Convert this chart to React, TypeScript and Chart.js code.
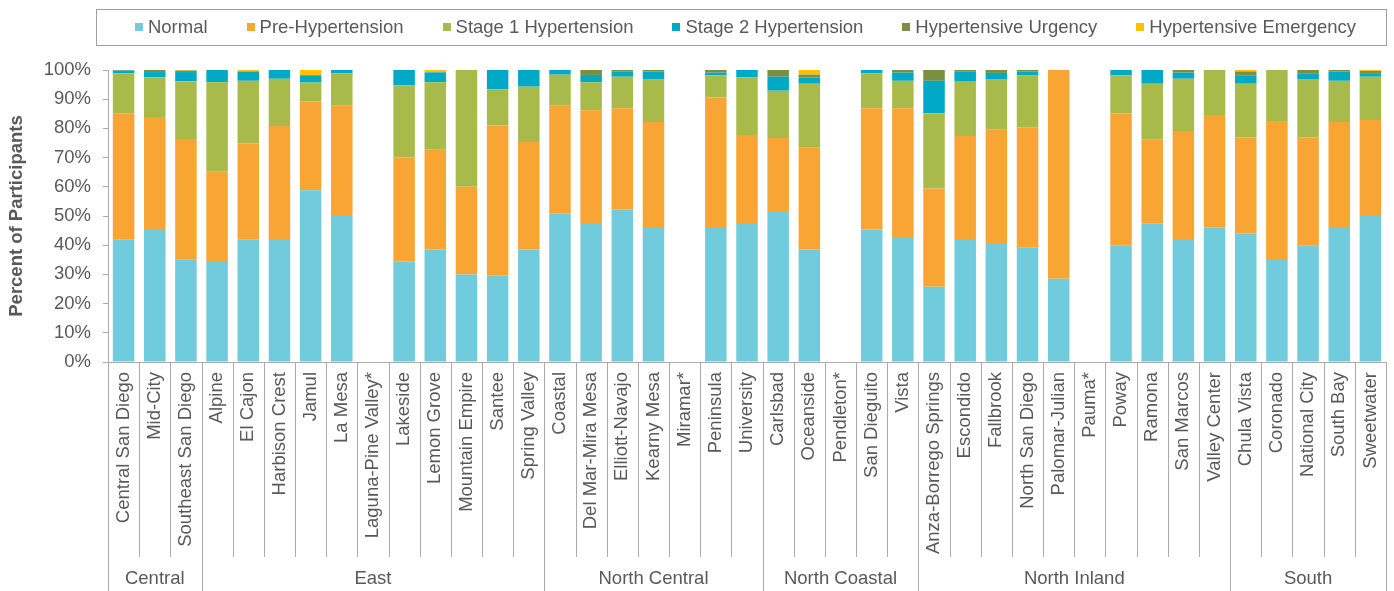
import React, { useEffect, useRef } from "react";
import { Chart, registerables } from "chart.js";

Chart.register(...registerables);

const categories = [
  "Central San Diego", "Mid-City", "Southeast San Diego",
  "Alpine", "El Cajon", "Harbison Crest", "Jamul", "La Mesa", "Laguna-Pine Valley*", "Lakeside", "Lemon Grove", "Mountain Empire", "Santee", "Spring Valley",
  "Coastal", "Del Mar-Mira Mesa", "Elliott-Navajo", "Kearny Mesa", "Miramar*", "Peninsula", "University",
  "Carlsbad", "Oceanside", "Pendleton*", "San Dieguito", "Vista",
  "Anza-Borrego Springs", "Escondido", "Fallbrook", "North San Diego", "Palomar-Julian", "Pauma*", "Poway", "Ramona", "San Marcos", "Valley Center",
  "Chula Vista", "Coronado", "National City", "South Bay", "Sweetwater",
];

const groupNames = ["Central", "East", "North Central", "North Coastal", "North Inland", "South"];
const groupSizes = [3, 11, 7, 5, 10, 5];

const normal = [
  42.0, 45.2, 35.0,
  34.6, 42.0, 41.8, 58.8, 50.0, null, 34.4, 38.5, 30.0, 29.6, 38.5,
  50.9, 47.3, 52.3, 45.9, null, 45.9, 47.3,
  51.4, 38.5, null, 45.4, 42.8,
  25.8, 41.8, 40.4, 39.3, 28.5, null, 40.0, 47.5, 41.8, 46.1,
  44.1, 35.3, 39.8, 45.9, 50.0,
];
const preHypertension = [
  43.2, 38.7, 41.4,
  30.7, 32.8, 39.0, 30.5, 37.9, null, 35.6, 34.2, 30.0, 51.5, 36.8,
  37.0, 38.9, 34.6, 36.3, null, 44.7, 30.4,
  25.3, 34.9, null, 41.5, 44.1,
  33.6, 35.6, 39.1, 41.1, 71.5, null, 45.2, 28.8, 37.3, 38.5,
  32.8, 47.2, 37.1, 36.3, 32.9,
];
const stage1 = [
  13.7, 13.6, 19.7,
  30.5, 21.5, 16.2, 6.4, 11.0, null, 24.7, 23.1, 40.0, 12.3, 19.0,
  10.5, 9.6, 10.8, 14.5, null, 7.6, 19.8,
  16.2, 21.9, null, 12.0, 9.4,
  25.8, 18.6, 17.2, 17.7, 0, null, 13.0, 19.0, 17.9, 15.4,
  18.4, 17.5, 19.8, 14.1, 14.8,
];
const stage2 = [
  0.9, 1.8, 3.2,
  4.2, 3.2, 3.0, 2.5, 1.1, null, 5.3, 3.4, 0, 6.6, 5.7,
  1.6, 2.5, 1.7, 2.8, null, 0.9, 2.5,
  4.8, 2.1, null, 1.1, 2.8,
  11.1, 3.4, 2.3, 1.4, 0, null, 1.8, 4.7, 2.1, 0,
  2.9, 0, 2.0, 3.2, 1.2,
];
const urgency = [
  0.2, 0.7, 0.5,
  0, 0, 0, 0, 0, null, 0, 0, 0, 0, 0,
  0, 1.7, 0.6, 0.5, null, 0.9, 0,
  2.3, 1.0, null, 0, 0.9,
  3.7, 0.6, 1.0, 0.5, 0, null, 0, 0, 0.9, 0,
  1.3, 0, 1.3, 0.5, 0.8,
];
const emergency = [
  0, 0, 0.2,
  0, 0.5, 0, 1.8, 0, null, 0, 0.8, 0, 0, 0,
  0, 0, 0, 0, null, 0, 0,
  0, 1.6, null, 0, 0,
  0, 0, 0, 0, 0, null, 0, 0, 0, 0,
  0.5, 0, 0, 0, 0.3,
];

const seriesNames = [
  "Normal", "Pre-Hypertension", "Stage 1 Hypertension",
  "Stage 2 Hypertension", "Hypertensive Urgency", "Hypertensive Emergency",
];
const seriesValues = [normal, preHypertension, stage1, stage2, urgency, emergency];
const seriesColors = ["#70CBDD", "#F9A533", "#A8BB4A", "#00A9C6", "#7A8F40", "#FFC000"];

const yTickValues = [0, 10, 20, 30, 40, 50, 60, 70, 80, 90, 100];

const FONT = "'Liberation Sans', Arial, sans-serif";
const FS = 18.5;
const TEXT = "#595959";
const LINE = "#ABABAB";

const decorPlugin = {
  id: "decor",
  afterDraw(chart: any) {
    const { ctx, chartArea } = chart;
    const xs = chart.scales.x;
    const n = categories.length;
    const w = (chartArea.right - chartArea.left) / n;
    ctx.save();
    ctx.strokeStyle = LINE;
    ctx.lineWidth = 1;
    const ends = new Set<number>([0]);
    let acc = 0;
    groupSizes.forEach((s) => {
      acc += s;
      ends.add(acc);
    });
    for (let i = 0; i <= n; i++) {
      const px = Math.round(xs.getPixelForValue(Math.min(i, n - 1)) + (i === n ? w / 2 : -w / 2)) + 0.5;
      const bottom = ends.has(i) ? chart.height : xs.bottom;
      ctx.beginPath();
      ctx.moveTo(px, chartArea.bottom);
      ctx.lineTo(px, bottom);
      ctx.stroke();
    }
    ctx.fillStyle = TEXT;
    ctx.font = `${FS}px ${FONT}`;
    ctx.textAlign = "center";
    ctx.textBaseline = "middle";
    let start = 0;
    groupSizes.forEach((s, gi) => {
      const cx = chartArea.left + (start + s / 2) * w;
      ctx.fillText(groupNames[gi], cx, xs.bottom + 22);
      start += s;
    });

    // legend box
    const boxL = chartArea.left - 12;
    const boxR = chartArea.right;
    const boxT = 9;
    const boxB = 45;
    ctx.strokeStyle = "#A0A0A0";
    ctx.strokeRect(Math.round(boxL) + 0.5, boxT + 0.5, Math.round(boxR - boxL), boxB - boxT);
    const marker = 8;
    const mgap = 5;
    const igap = 39;
    ctx.font = `${FS}px ${FONT}`;
    const widths = seriesNames.map((t) => ctx.measureText(t).width);
    const total = widths.reduce((a, b) => a + b + marker + mgap, 0) + igap * (seriesNames.length - 1);
    let x = (chartArea.left + chartArea.right) / 2 - 1.5 - total / 2;
    const cy = 27;
    ctx.textAlign = "left";
    seriesNames.forEach((t, i) => {
      ctx.fillStyle = seriesColors[i];
      ctx.fillRect(Math.round(x), cy - 4, marker, marker);
      ctx.fillStyle = TEXT;
      ctx.fillText(t, x + marker + mgap, cy + 1);
      x += marker + mgap + widths[i] + igap;
    });
    ctx.restore();
  },
};

export default function App() {
  const ref = useRef<HTMLCanvasElement | null>(null);
  useEffect(() => {
    document.body.style.margin = "0";
    document.body.style.overflow = "hidden";
    document.documentElement.style.overflow = "hidden";
    if (!ref.current) return;
    const chart = new Chart(ref.current, {
      type: "bar",
      data: {
        labels: categories,
        datasets: seriesNames.map((name, i) => ({
          label: name,
          data: seriesValues[i],
          backgroundColor: seriesColors[i],
          borderWidth: 0,
          barPercentage: 0.69,
          categoryPercentage: 1.0,
        })),
      },
      options: {
        animation: false,
        responsive: false,
        layout: { padding: { top: 70, right: 0, bottom: 34, left: 0 } },
        plugins: {
          legend: { display: false },
          tooltip: { enabled: false },
        },
        scales: {
          x: {
            stacked: true,
            grid: { display: false, drawTicks: false },
            border: { display: true, color: LINE },
            ticks: {
              autoSkip: false,
              minRotation: 90,
              maxRotation: 90,
              padding: 10,
              color: TEXT,
              font: { size: FS, family: FONT },
            },
            afterFit: (s: any) => {
              s.height = 195;
              s.paddingRight = 8;
            },
          },
          y: {
            stacked: true,
            min: 0,
            max: 100,
            afterBuildTicks: (s: any) => {
              s.ticks = yTickValues.map((v) => ({ value: v }));
            },
            ticks: {
              callback: (v: any) => `${v}%`,
              color: TEXT,
              padding: 12,
              font: { size: FS, family: FONT },
            },
            grid: { drawOnChartArea: false, drawTicks: true, tickLength: 5, color: LINE },
            border: { display: true, color: LINE },
            title: {
              display: true,
              text: "Percent of Participants",
              color: TEXT,
              font: { size: FS, weight: "bold", family: FONT },
              padding: { top: 6, bottom: 0 },
            },
            afterFit: (s: any) => {
              s.width = 108;
            },
          },
        },
      },
      plugins: [decorPlugin],
    });
    return () => chart.destroy();
  }, []);
  return (
    <div style={{ width: 1394, height: 591, overflow: "hidden" }}>
      <canvas ref={ref} width={1394} height={591} style={{ display: "block", width: 1394, height: 591 }} />
    </div>
  );
}
